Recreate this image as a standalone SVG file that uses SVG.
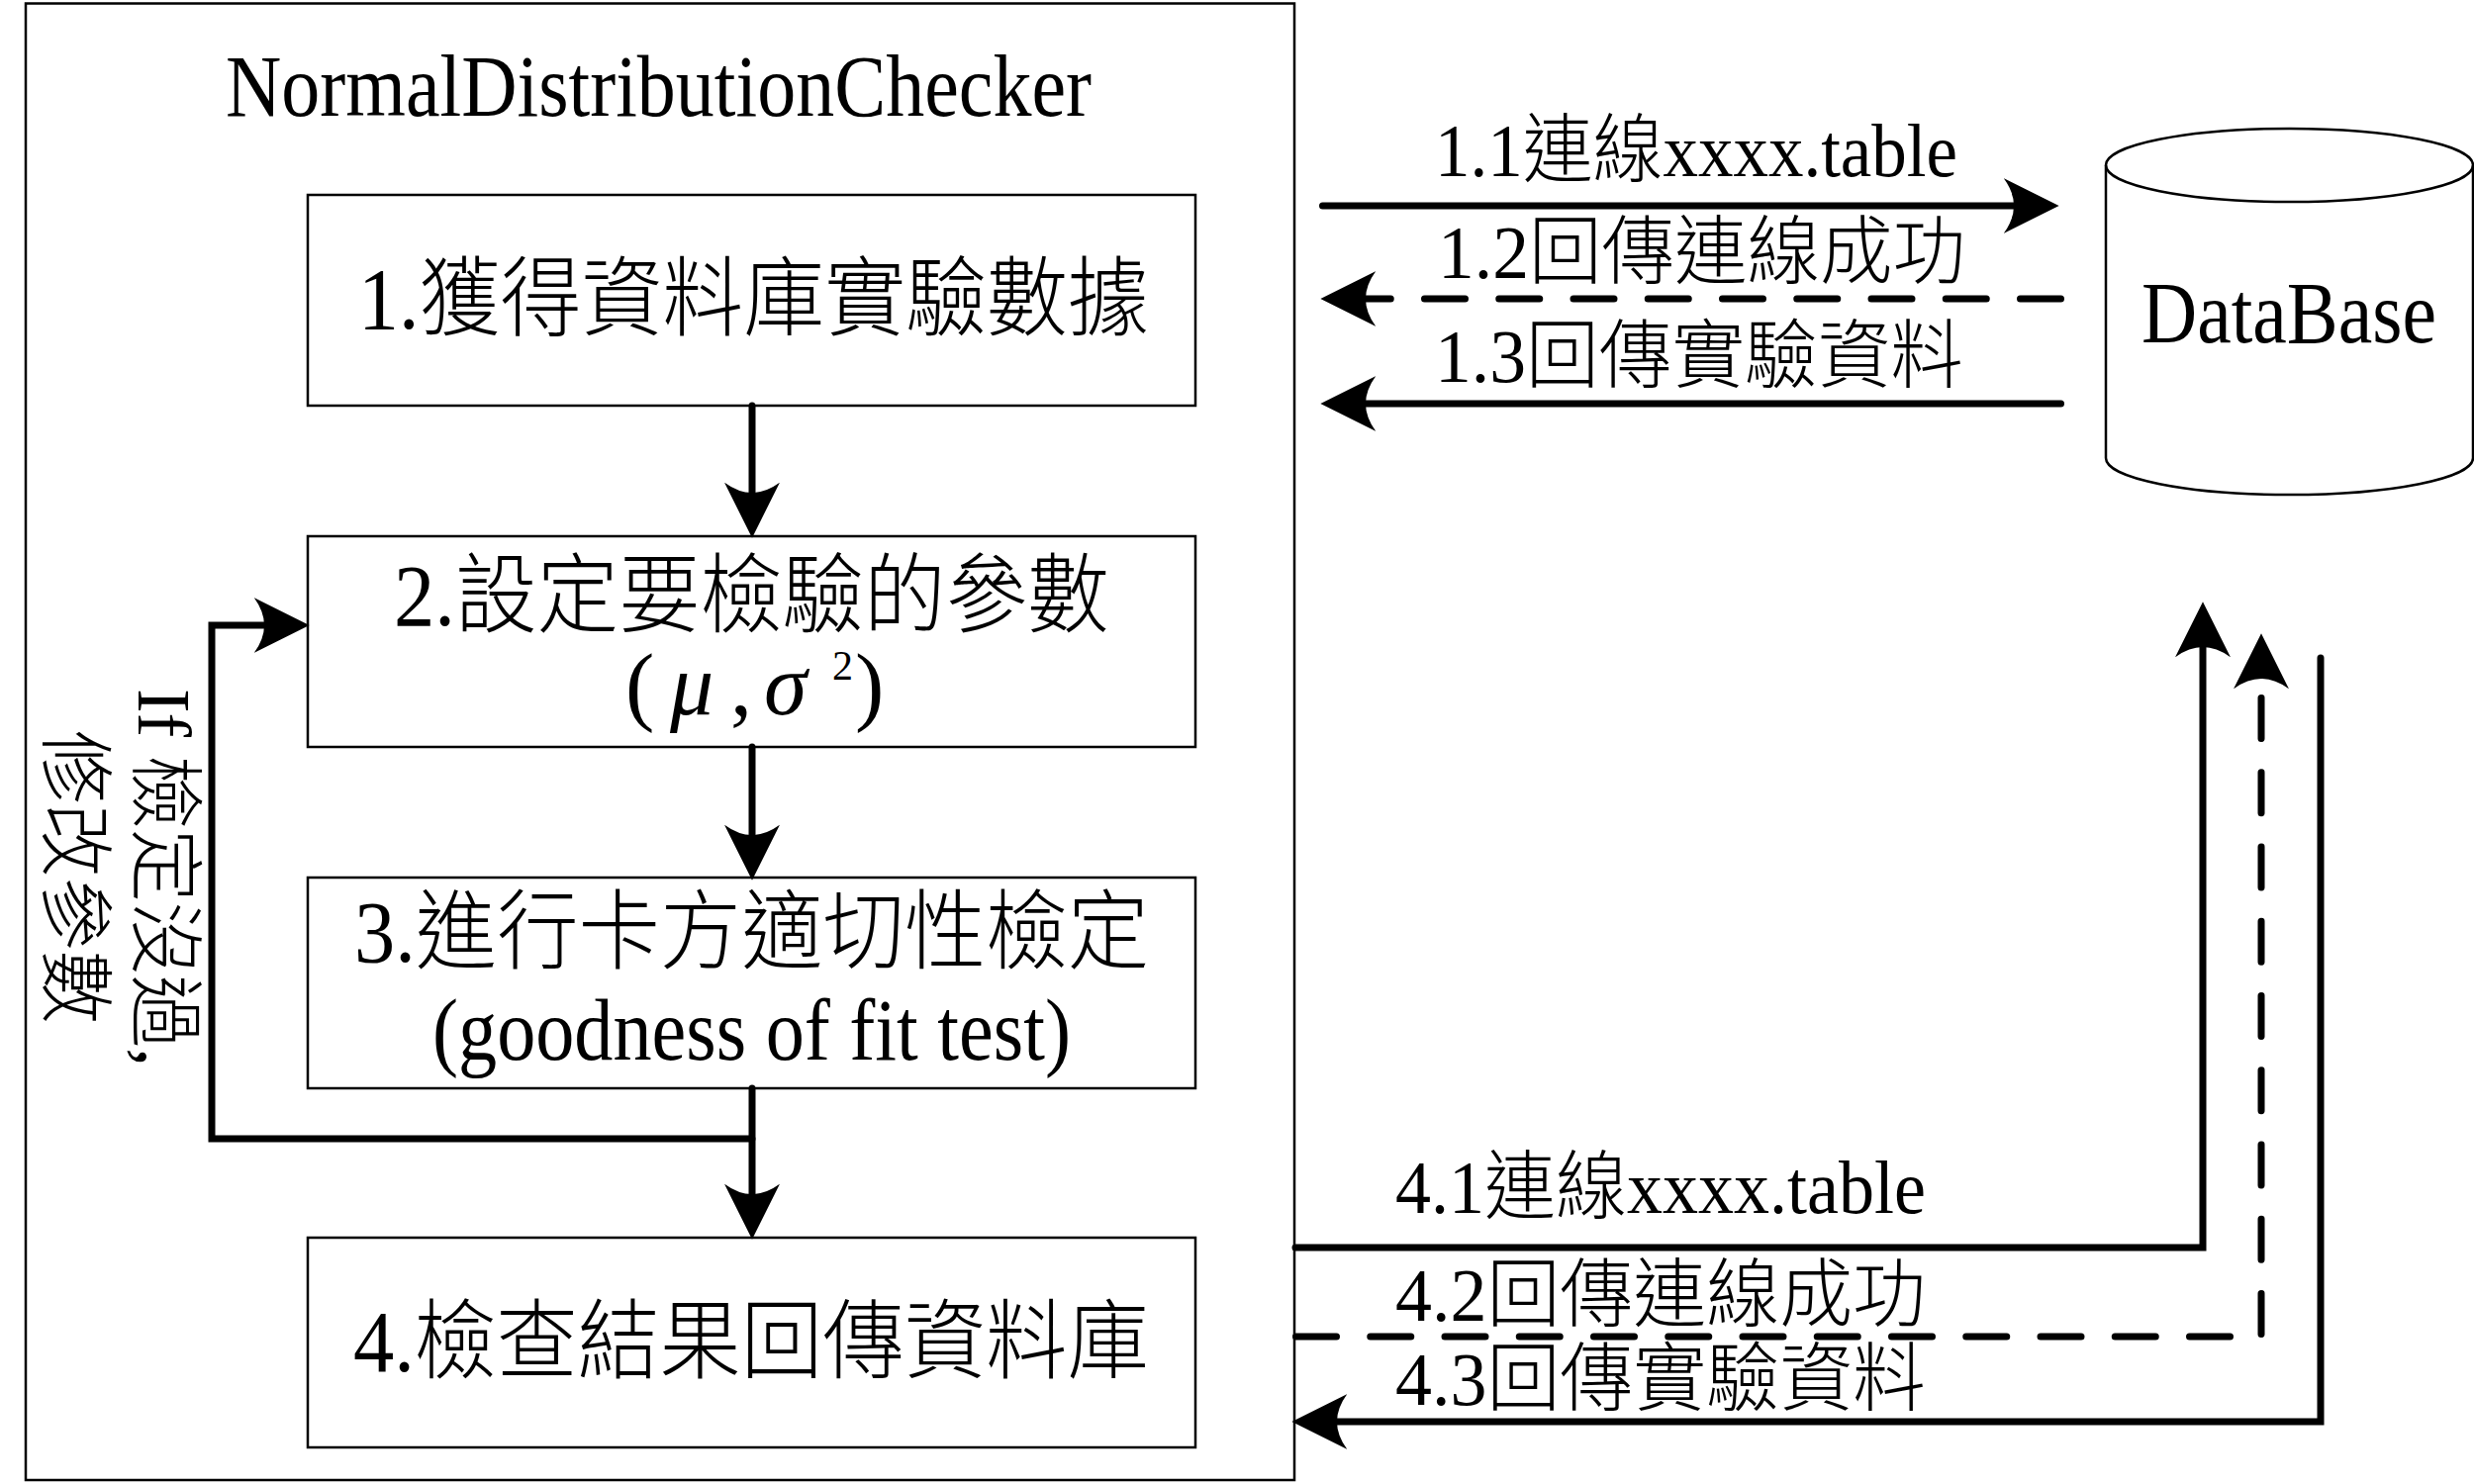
<svg xmlns="http://www.w3.org/2000/svg" width="2500" height="1500" viewBox="0 0 2500 1500">
<style>
text{font-family:"Liberation Serif","Noto Sans CJK TC",serif;fill:#000;font-weight:300}
.t88{font-size:88px}
.t76{font-size:76px}
.box{fill:#fff;stroke:#000;stroke-width:2.5}
.c{fill:none;stroke:#000;stroke-width:7;stroke-linecap:round;stroke-linejoin:miter}
.a{marker-end:url(#head)}
.d{stroke-dasharray:41 34.25}
</style>
<defs>
<marker id="head" markerUnits="userSpaceOnUse" markerWidth="56" markerHeight="56" viewBox="0 0 54 54" refX="10" refY="27" orient="auto">
<path d="M54 27L0 0Q20 27 0 54Z" fill="#000"/>
</marker>
</defs>
<rect width="2500" height="1500" fill="#fff"/>
<g id="NormalDistributionChecker">
<rect class="box" x="26" y="3.500" width="1282" height="1492.500"/>
<text class="t88" x="228" y="117" textLength="875" lengthAdjust="spacingAndGlyphs">NormalDistributionChecker</text>
</g>
<g id="step1">
<rect class="box" x="311" y="197" width="897" height="213"/>
<text class="t88" x="362" y="332" textLength="799" lengthAdjust="spacingAndGlyphs">1.獲得資料庫實驗數據</text>
</g>
<g id="step2">
<rect class="box" x="311" y="542" width="897" height="213"/>
<text class="t88" x="398" y="632" textLength="723" lengthAdjust="spacingAndGlyphs">2.設定要檢驗的參數</text>
<text class="t88" x="632" y="722">(</text>
<text class="t88" x="677" y="722" font-style="italic">μ</text>
<text class="t88" x="738" y="722">,</text>
<text class="t88" x="772" y="722" font-style="italic">σ</text>
<text x="841" y="687" font-size="42">2</text>
<text class="t88" x="864" y="722">)</text>
</g>
<g id="step3">
<rect class="box" x="311" y="887" width="897" height="213"/>
<text class="t88" x="358" y="972" textLength="803" lengthAdjust="spacingAndGlyphs">3.進行卡方適切性檢定</text>
<text class="t88" x="437" y="1071" textLength="645" lengthAdjust="spacingAndGlyphs">(goodness of fit test)</text>
</g>
<g id="step4">
<rect class="box" x="311" y="1251" width="897" height="212"/>
<text class="t88" x="357" y="1386" textLength="804" lengthAdjust="spacingAndGlyphs">4.檢查結果回傳資料庫</text>
</g>
<g id="DataBase">
<path d="M2128 167A185.500 37 0 0 1 2499 167V463A185.500 37 0 0 1 2128 463Z" fill="#fff" stroke="#000" stroke-width="2.500"/>
<path d="M2128 167A185.500 37 0 0 0 2499 167" fill="none" stroke="#000" stroke-width="2.500"/>
<text class="t88" x="2164" y="346" textLength="298" lengthAdjust="spacingAndGlyphs">DataBase</text>
</g>
<g id="connectors">
<path class="c a" d="M760 410V498"/>
<path class="c a" d="M760 755V844"/>
<path class="c a" d="M760 1100V1207"/>
<path class="c a" d="M760 1151H214V632H267"/>
<path class="c a" d="M1336.500 208H2035"/>
<path class="c d a" d="M2082.500 302H1380"/>
<path class="c a" d="M2082.500 408H1380"/>
<path class="c a" d="M1309 1261H2226V654"/>
<path class="c d" d="M1309.500 1351H2262"/>
<path class="c d a" d="M2285 1348.500V686"/>
<path class="c a" d="M2345 665V1437H1351"/>
</g>
<g id="connector-labels">
<text class="t76" x="1450" y="178" textLength="528" lengthAdjust="spacingAndGlyphs">1.1連線xxxx.table</text>
<text class="t76" x="1453" y="281" textLength="533" lengthAdjust="spacingAndGlyphs">1.2回傳連線成功</text>
<text class="t76" x="1450" y="386" textLength="534" lengthAdjust="spacingAndGlyphs">1.3回傳實驗資料</text>
<text class="t76" x="1410" y="1226" textLength="536" lengthAdjust="spacingAndGlyphs">4.1連線xxxx.table</text>
<text class="t76" x="1410" y="1335" textLength="536" lengthAdjust="spacingAndGlyphs">4.2回傳連線成功</text>
<text class="t76" x="1410" y="1420" textLength="536" lengthAdjust="spacingAndGlyphs">4.3回傳實驗資料</text>
<text class="t76" transform="translate(140 696) rotate(90)" textLength="382" lengthAdjust="spacingAndGlyphs">If 檢定沒過,</text>
<text class="t76" transform="translate(49 738) rotate(90)" textLength="297" lengthAdjust="spacingAndGlyphs">修改參數</text>
</g>
</svg>
